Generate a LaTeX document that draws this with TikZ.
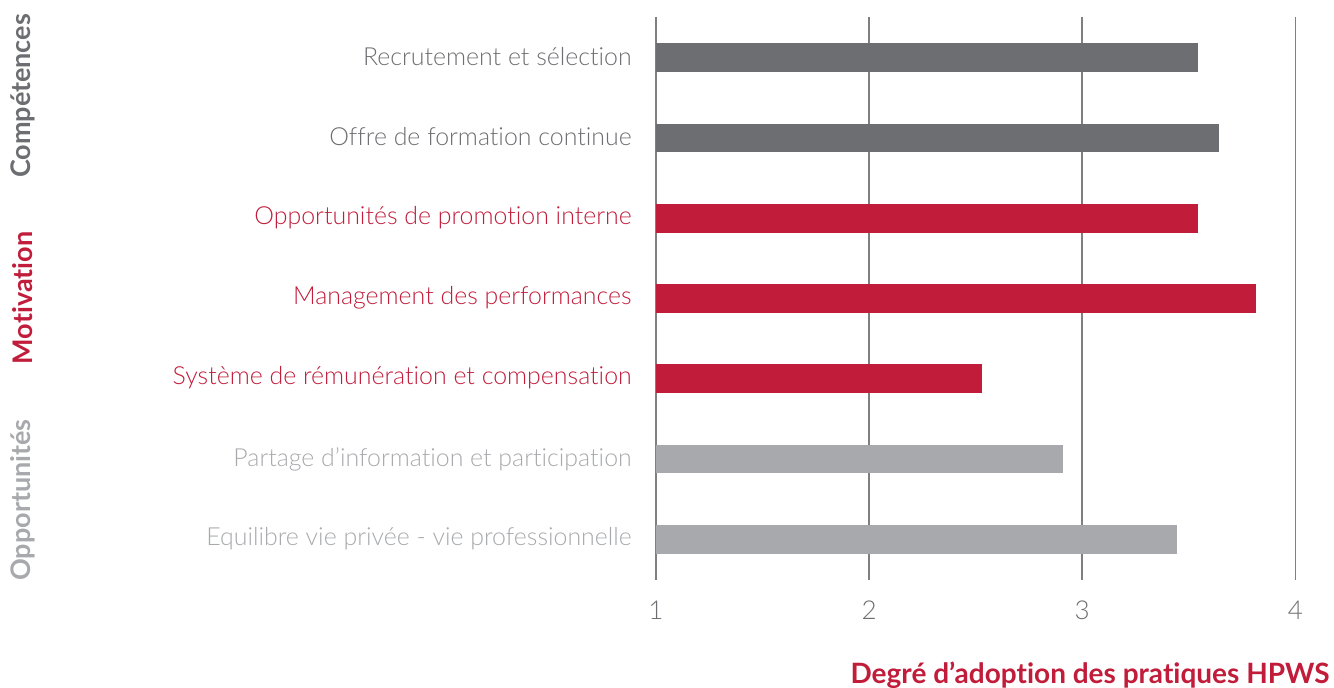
\documentclass[tikz,border=0pt]{standalone}
\usepackage{fontspec}
\setmainfont{Lato}[UprightFont={* Light},BoldFont={* Bold},Ligatures={NoCommon,NoRare,NoDiscretionary}]
\definecolor{dgray}{HTML}{6D6E71}
\definecolor{lgray}{HTML}{A7A9AC}
\definecolor{hred}{HTML}{C11D3B}
\definecolor{grid}{HTML}{7F7F7F}
\begin{document}
\begin{tikzpicture}[x=0.5pt,y=-0.5pt,
  bar/.style={fill=#1,draw=none},
  lab/.style={anchor=east,inner sep=0pt,text=#1,font=\fontsize{12.45}{12.45}\selectfont},
  tick/.style={anchor=center,inner sep=0pt,text=dgray,font=\fontsize{13}{13}\selectfont},
  grp/.style={rotate=90,anchor=center,inner sep=0pt,text=#1,font=\fontsize{13.5}{13.5}\selectfont\bfseries},
  gline/.style={draw=grid,line width=0.75pt}]
\useasboundingbox (0,0) rectangle (1334,688);
% gridlines
\foreach \i/\v in {1/1,2/2,3/3,4/4}{
  \coordinate (gt\i) at ({656+213.1*(\v-1)},17);
  \coordinate (gb\i) at ({656+213.1*(\v-1)},580);
  \draw[gline] (gt\i) -- (gb\i);
  \node[tick] (t\i) at ({656+213.1*(\v-1)},610) {\v};
}
% bars
\foreach \k/\e/\c in {0/1198/dgray,1/1219/dgray,2/1198/hred,3/1256/hred,4/982/hred,5/1063/lgray,6/1177/lgray}{
  \fill[bar=\c] (656,{57.8+80.25*\k-14.3}) rectangle (\e,{57.8+80.25*\k+14.3});
}
% labels
\node[lab=dgray] (l1) at (632,57) {Recrutement et sélection};
\node[lab=dgray] (l2) at (632,137) {Offre de formation continue};
\node[lab=hred] (l3) at (632,218) {Opportunités de promotion interne};
\node[lab=hred] (l4) at (632,298) {Management des performances};
\node[lab=hred] (l5) at (632,378) {Système de rémunération et compensation};
\node[lab=lgray] (l6) at (632,459) {Partage d’information et participation};
\node[lab=lgray] (l7) at (632,539) {Equilibre vie privée - vie professionnelle};
% groups
\node[grp=dgray] (g1) at (23,96) {Compétences};
\node[grp=hred] (g2) at (23,298) {Motivation};
\node[grp=lgray] (g3) at (23,500) {Opportunités};
% axis title
\node[anchor=east,inner sep=0pt,text=hred,font=\fontsize{14}{14}\selectfont\bfseries] (ttl) at (1330,675) {Degré d’adoption des pratiques HPWS};
\end{tikzpicture}
\end{document}
